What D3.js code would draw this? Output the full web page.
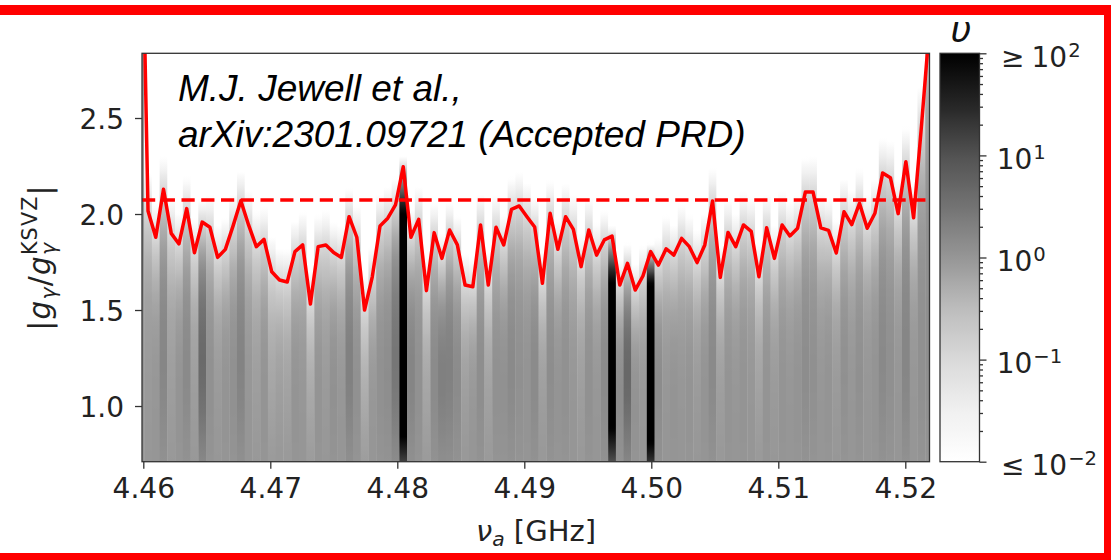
<!DOCTYPE html>
<html>
<head>
<meta charset="utf-8">
<script src="https://cdn.jsdelivr.net/npm/d3@7"></script>
<style>
  html, body { margin: 0; padding: 0; background: #fff; }
  svg { display: block; }
  text { font-family: "DejaVu Sans", sans-serif; fill: #222; }
</style>
</head>
<body>
<svg id="chart" width="1111" height="560"></svg>
<script>
// Frequency bins of the scan (GHz): first bin centre and bin width
const binStart = 4.459764;
const binStep = 0.0006089;

// 90% exclusion limit on |g_γ / g_γ^KSVZ| in each bin
const limit = [
  4.10, 2.016, 1.879, 2.129, 1.899, 1.844, 2.028, 1.798, 1.958, 1.931,
  1.774, 1.816, 1.938, 2.069, 1.943, 1.830, 1.868, 1.699, 1.656, 1.646,
  1.804, 1.839, 1.531, 1.830, 1.839, 1.799, 1.774, 1.986, 1.879, 1.500,
  1.673, 1.938, 1.978, 2.047, 2.246, 1.879, 1.972, 1.601, 1.903, 1.769,
  1.917, 1.839, 1.630, 1.621, 1.943, 1.630, 1.931, 1.839, 2.024, 2.042,
  1.986, 1.932, 1.639, 2.004, 1.816, 1.986, 1.920, 1.726, 1.917, 1.786,
  1.865, 1.885, 1.630, 1.743, 1.604, 1.677, 1.804, 1.734, 1.819, 1.786,
  1.873, 1.830, 1.747, 1.839, 2.068, 1.670, 1.904, 1.830, 1.943, 1.910,
  1.673, 1.928, 1.769, 1.943, 1.886, 1.926, 2.114, 2.114, 1.928, 1.915,
  1.797, 2.012, 1.945, 2.056, 1.926, 2.004, 2.214, 2.189, 2.002, 2.272,
  1.980, 2.45, 2.95
];

// log10 of the update factor υ at low coupling in each bin
const lowLevel = [
  0, -0.05, 0, 0.25, -0.1, 0.05, 0.2, -0.1, 0.7, 0.1,
  -0.05, 0.05, 0.1, 0.3, 0, -0.1, 0.05, -0.2, -0.1, -0.15,
  0.05, 0, -0.25, 0.05, -0.05, 0.1, 0, 0.35, 0.1, -0.3,
  0, 0.1, 0.15, 0.5, 4, 0.3, 0.1, -0.2, 0.2, 0.4,
  0.35, 0.2, -0.1, 0, 0.15, -0.15, 0.1, 0.1, 0.2, 0.1,
  0.05, 0.2, -0.1, 0.15, 0.05, 0.1, 0, -0.1, 0.1, 0,
  0.2, 3.5, 0.2, 0.8, 0.1, 0, 4.5, 0.2, 0, 0.05,
  0, 0.05, -0.05, 0.05, 0.2, -0.1, 0.05, 0, 0.05, 0,
  -0.15, 0.05, -0.05, 0.05, 0, 0.05, 0.15, 0.1, 0, 0.05,
  -0.05, 0.1, 0, 0.1, 0, 0.05, 0.2, 0.1, 0, 0.25,
  0, 0.1, 0.1
];

// aggregate limit (dashed line)
const aggregateLimit = 2.073;

const xTicks = [4.46, 4.47, 4.48, 4.49, 4.50, 4.51, 4.52];
const yTicks = [1.0, 1.5, 2.0, 2.5];
const cbarTicks = [1e-2, 1e-1, 1e0, 1e1, 1e2];
const cbarLabels = [
  { pre: "≤", base: "10", exp: "−2" },
  { pre: "",  base: "10", exp: "−1" },
  { pre: "",  base: "10", exp: "0" },
  { pre: "",  base: "10", exp: "1" },
  { pre: "≥", base: "10", exp: "2" }
];
// matplotlib "Greys" colour ramp
const greyRamp = ["#ffffff", "#f0f0f0", "#d9d9d9", "#bdbdbd", "#969696",
                  "#737373", "#525252", "#252525", "#000000"];

const annotation = ["M.J. Jewell et al.,", "arXiv:2301.09721 (Accepted PRD)"];

// ---------------------------------------------------------------
const svg = d3.select("#chart");
const plot = { left: 142, right: 929.5, top: 53.3, bottom: 461.7 };
const cbar = { left: 940, right: 979.5 };

const x = d3.scaleLinear().domain([4.459898, 4.521906]).range([plot.left, plot.right]);
const y = d3.scaleLinear().domain([0.710, 2.837]).range([plot.bottom, plot.top]);

const norm = d3.scaleLog().domain([1e-2, 1e2]).range([0, 1]).clamp(true);
const greys = d3.scaleLinear()
  .domain(greyRamp.map((_, i) => i / (greyRamp.length - 1)))
  .range(greyRamp)
  .interpolate(d3.interpolateRgb);
const colour = v => greys(norm(v));

// update factor υ(g) in one bin: builds up from the lowest couplings,
// stays flat, then falls to 0.1 at the bin's limit
const sharp = 8;
function upsilon(g, gl, c) {
  const rise = 1 - Math.exp(-Math.pow(g / 0.92, 4));
  const riseL = 1 - Math.exp(-Math.pow(gl / 0.92, 4));
  const r = Math.pow(g / gl, sharp);
  return Math.pow(10, c * rise - (1 + c * riseL) * r);
}

const freqs = limit.map((_, i) => binStart + i * binStep);
const bins = freqs.map((f, i) => ({ f, gl: limit[i], c: lowLevel[i], i }));

// border
const border = svg.append("g").attr("fill", "#ff0000");
border.append("rect").attr("x", 0).attr("y", 5).attr("width", 1111).attr("height", 10);
border.append("rect").attr("x", 1104).attr("y", 5).attr("width", 7).attr("height", 555);
border.append("rect").attr("x", 0).attr("y", 553).attr("width", 1111).attr("height", 7);

const defs = svg.append("defs");
defs.append("clipPath").attr("id", "plotClip")
  .append("rect")
  .attr("x", plot.left).attr("y", plot.top)
  .attr("width", plot.right - plot.left).attr("height", plot.bottom - plot.top);

// vertical colour profile of each bin
const gSamples = d3.range(0.70, 2.86, 0.02);
const [g0, g1] = y.domain();
bins.forEach(b => {
  const grad = defs.append("linearGradient")
    .attr("id", "bin" + b.i)
    .attr("gradientUnits", "userSpaceOnUse")
    .attr("x1", 0).attr("x2", 0)
    .attr("y1", y(g0)).attr("y2", y(g1));
  gSamples.forEach(g => {
    grad.append("stop")
      .attr("offset", (g - g0) / (g1 - g0))
      .attr("stop-color", colour(upsilon(g, b.gl, b.c)));
  });
});

const plotArea = svg.append("g").attr("clip-path", "url(#plotClip)");
plotArea.append("rect")
  .attr("x", plot.left).attr("y", plot.top)
  .attr("width", plot.right - plot.left).attr("height", plot.bottom - plot.top)
  .attr("fill", "#fff");

plotArea.append("g").selectAll("rect")
  .data(bins)
  .join("rect")
  .attr("x", d => x(d.f - binStep / 2))
  .attr("width", d => x(d.f + binStep / 2) - x(d.f - binStep / 2) + 0.4)
  .attr("y", y(g1))
  .attr("height", y(g0) - y(g1))
  .attr("fill", d => `url(#bin${d.i})`);

// aggregate limit
plotArea.append("line")
  .attr("x1", plot.left).attr("x2", plot.right)
  .attr("y1", y(aggregateLimit)).attr("y2", y(aggregateLimit))
  .attr("stroke", "#ff0000").attr("stroke-width", 3.5)
  .attr("stroke-dasharray", "13.2 6.55");

// per-bin limit
plotArea.append("path")
  .datum(bins)
  .attr("d", d3.line().x(d => x(d.f)).y(d => y(d.gl)))
  .attr("fill", "none")
  .attr("stroke", "#ff0000")
  .attr("stroke-width", 3.5)
  .attr("stroke-linejoin", "round");

// annotation
const note = svg.append("text")
  .attr("x", 178)
  .style("font-family", "'Liberation Sans', Arial, sans-serif")
  .style("font-style", "italic")
  .style("font-size", "37px")
  .style("fill", "#000");
note.selectAll("tspan").data(annotation).join("tspan")
  .attr("x", 178)
  .attr("y", (d, i) => 101 + i * 46)
  .text(d => d);

// frame
svg.append("rect")
  .attr("x", plot.left).attr("y", plot.top)
  .attr("width", plot.right - plot.left).attr("height", plot.bottom - plot.top)
  .attr("fill", "none").attr("stroke", "#333").attr("stroke-width", 1.3);

// axes
const axisStyle = g => {
  g.select(".domain").remove();
  g.selectAll(".tick line").attr("stroke", "#333").attr("stroke-width", 1.3);
  g.selectAll(".tick text")
    .style("font-family", "'DejaVu Sans', sans-serif")
    .style("font-size", "28px").attr("fill", "#222");
};

svg.append("g")
  .attr("transform", `translate(0,${plot.bottom})`)
  .call(d3.axisBottom(x).tickValues(xTicks).tickSize(7).tickPadding(9.5).tickFormat(d3.format(".2f")))
  .call(axisStyle);

svg.append("g")
  .attr("transform", `translate(${plot.left},0)`)
  .call(d3.axisLeft(y).tickValues(yTicks).tickSize(7).tickPadding(11).tickFormat(d3.format(".1f")))
  .call(axisStyle)
  .call(g => g.selectAll(".tick text").attr("dy", "0.36em"));

// x label: ν_a [GHz]
const xl = svg.append("text")
  .attr("x", 536).attr("y", 541)
  .attr("text-anchor", "middle")
  .style("font-size", "29px");
xl.append("tspan").style("font-style", "italic").text("ν");
xl.append("tspan").style("font-style", "italic").style("font-size", "20.3px").attr("dy", 5).text("a");
xl.append("tspan").attr("dy", -5).text(" [GHz]");

// y label: |g_γ / g_γ^KSVZ|
const yl = svg.append("text")
  .attr("transform", "translate(50,257.5) rotate(-90)")
  .attr("text-anchor", "middle")
  .style("font-size", "29.5px")
  .style("letter-spacing", "1.2px");
yl.append("tspan").text("|");
yl.append("tspan").style("font-style", "italic").text("g");
yl.append("tspan").style("font-style", "italic").style("font-size", "20.6px").attr("dy", 6).text("γ");
yl.append("tspan").attr("dy", -6).text("/");
yl.append("tspan").style("font-style", "italic").text("g");
const subG = yl.append("tspan").style("font-style", "italic").style("font-size", "20.6px").attr("dy", 6).text("γ");
const supK = yl.append("tspan").style("font-size", "20.6px").attr("dy", -19).text("KSVZ");
yl.append("tspan").attr("dy", 13).text("|");
supK.attr("dx", -subG.node().getComputedTextLength());

// colour bar
const cb = d3.scaleLog().domain([1e-2, 1e2]).range([plot.bottom, plot.top]);
const cbGrad = defs.append("linearGradient")
  .attr("id", "cbarGrad")
  .attr("gradientUnits", "userSpaceOnUse")
  .attr("x1", 0).attr("x2", 0)
  .attr("y1", plot.bottom).attr("y2", plot.top);
d3.range(0, 1.0001, 0.02).forEach(t => {
  const v = cb.invert(plot.bottom + t * (plot.top - plot.bottom));
  cbGrad.append("stop").attr("offset", t).attr("stop-color", colour(v));
});
svg.append("rect")
  .attr("x", cbar.left).attr("y", plot.top)
  .attr("width", cbar.right - cbar.left).attr("height", plot.bottom - plot.top)
  .attr("fill", "url(#cbarGrad)")
  .attr("stroke", "#333").attr("stroke-width", 1.3);

const minor = [];
[1e-2, 1e-1, 1e0, 1e1].forEach(dec => d3.range(2, 10).forEach(k => minor.push(dec * k)));

svg.append("g")
  .attr("transform", `translate(${cbar.right},0)`)
  .call(d3.axisRight(cb).tickValues(minor).tickSize(3.5).tickFormat(""))
  .call(axisStyle);
svg.append("g")
  .attr("transform", `translate(${cbar.right},0)`)
  .call(d3.axisRight(cb).tickValues(cbarTicks).tickSize(7).tickFormat(""))
  .call(axisStyle);

const cbl = svg.append("g").style("font-size", "28px");
cbarTicks.forEach((v, i) => {
  const lab = cbarLabels[i];
  const yy = cb(v) + 13.5;
  if (lab.pre) {
    cbl.append("text").attr("x", 1001).attr("y", yy).text(lab.pre);
  }
  const t = cbl.append("text").attr("x", lab.pre ? 1031.5 : 996.7).attr("y", yy);
  t.append("tspan").text(lab.base);
  t.append("tspan").attr("dy", -10).attr("dx", 1).style("font-size", "19.6px").text(lab.exp);
});

// colour bar title
svg.append("text")
  .attr("x", 961).attr("y", 42)
  .attr("text-anchor", "middle")
  .style("font-family", "'DejaVu Sans', sans-serif")
  .style("font-style", "italic")
  .style("font-size", "36px")
  .style("fill", "#111")
  .text("υ");
</script>
</body>
</html>
